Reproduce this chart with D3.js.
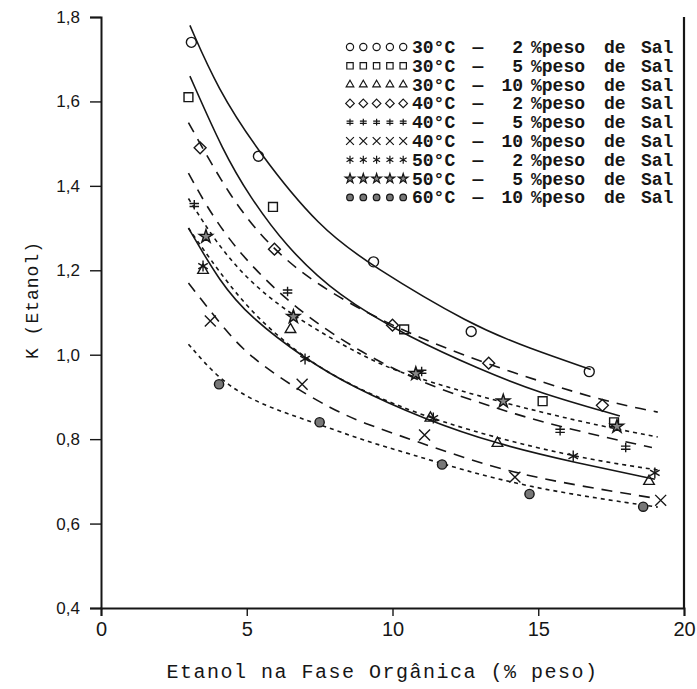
<!DOCTYPE html>
<html>
<head>
<meta charset="utf-8">
<script src="https://cdn.jsdelivr.net/npm/d3@7"></script>
<style>
  body { margin: 0; background: #fff; }
  svg { display: block; }
</style>
</head>
<body>
<svg id="chart" width="697" height="689"></svg>
<script>
// ---- data ----
var xDomain = [0, 20]
  , yDomain = [0.4, 1.8];
var xMajor = [0, 5, 10, 15, 20];
var yMajor = [0.4, 0.6, 0.8, 1.0, 1.2, 1.4, 1.6, 1.8];

var temps = ["30°C", "30°C", "30°C", "40°C", "40°C", "40°C", "50°C", "50°C", "60°C"];
var salts = ["2", "5", "10", "2", "5", "10", "2", "5", "10"];

// experimental points [etanol %, K]
var pts30_2  = [[3.1,1.74],[5.4,1.47],[9.35,1.22],[12.7,1.055],[16.75,0.96]];
var pts30_5  = [[3.0,1.61],[5.9,1.35],[10.4,1.06],[15.15,0.89],[17.6,0.84]];
var pts30_10 = [[3.5,1.20],[6.5,1.06],[11.3,0.85],[13.6,0.79],[18.8,0.70]];
var pts40_2  = [[3.4,1.49],[5.95,1.25],[10.0,1.07],[13.3,0.98],[17.2,0.88]];
var pts40_5  = [[3.2,1.355],[6.4,1.15],[11.0,0.96],[15.75,0.82],[18.0,0.78]];
var pts40_10 = [[3.75,1.08],[6.9,0.93],[11.1,0.81],[14.2,0.71],[19.2,0.655]];
var pts50_2  = [[3.5,1.21],[7.0,0.99],[11.4,0.85],[16.2,0.76],[19.0,0.72]];
var pts50_5  = [[3.6,1.28],[6.6,1.09],[10.8,0.955],[13.8,0.89],[17.7,0.83]];
var pts60_10 = [[4.05,0.93],[7.5,0.84],[11.7,0.74],[14.7,0.67],[18.6,0.64]];

// fitted curves, read at a few places along each line
var fit30_2  = [[3.05,1.78],[4,1.63],[5.4,1.48],[7.5,1.30],[9.3,1.21],[12.7,1.07],[14.7,1.015],[16.8,0.965]];
var fit30_5  = [[3.05,1.66],[4.2,1.48],[5.1,1.375],[6.3,1.26],[8.1,1.14],[10.6,1.04],[13,0.965],[15,0.91],[17.8,0.855]];
var fit30_10 = [[3.0,1.30],[4.1,1.17],[5.1,1.09],[7.0,0.99],[8.6,0.925],[11.06,0.848],[13.6,0.788],[16.3,0.744],[19.0,0.705]];
var fit40_2  = [[3.0,1.55],[4.45,1.37],[5.8,1.255],[7.4,1.165],[10,1.065],[13.3,0.975],[17.2,0.89],[19.1,0.864]];
var fit40_5  = [[3.0,1.43],[4.2,1.28],[6.4,1.12],[9,1.0],[11.3,0.925],[13.7,0.87],[15.65,0.83],[18.9,0.78]];
var fit40_10 = [[3.0,1.17],[4.35,1.05],[5.14,0.995],[6.5,0.928],[7.9,0.872],[9.0,0.838],[10.6,0.8],[13.36,0.734],[15.65,0.698],[19.0,0.66]];
var fit50_2  = [[3.0,1.30],[3.6,1.24],[5.1,1.10],[7.0,0.99],[8.6,0.925],[11.5,0.84],[16.1,0.758],[19.1,0.727]];
var fit50_5  = [[3.0,1.37],[4,1.26],[5.14,1.17],[6.6,1.09],[9.0,0.995],[10.5,0.95],[13.7,0.888],[16.5,0.84],[19.1,0.805]];
var fit60_10 = [[3.0,1.025],[4.0,0.945],[5.1,0.895],[6.3,0.862],[7.5,0.835],[9.0,0.797],[10.6,0.765],[12.5,0.725],[14.7,0.687],[17,0.66],[19.1,0.639]];

var points = [pts30_2, pts30_5, pts30_10, pts40_2, pts40_5, pts40_10, pts50_2, pts50_5, pts60_10];
var fits   = [fit30_2, fit30_5, fit30_10, fit40_2, fit40_5, fit40_10, fit50_2, fit50_5, fit60_10];

// ---- drawing ----
var ink = "#161616";
var markerKinds = ["circle","square","triangle","diamond","dplus","times","asterisk","star","dot"];
var dashes = [null, null, null, "11,8", "11,8", "11,8", "4,4", "4,4", "4,4"];

var svg = d3.select("#chart");

var x = d3.scaleLinear().domain(xDomain).range([101, 684]);
var y = d3.scaleLinear().domain(yDomain).range([608, 17]);

function markerPath(kind, r) {
  if (kind == "circle") return d3.symbol(d3.symbolCircle, Math.PI * r * r)();
  if (kind == "dot") return d3.symbol(d3.symbolCircle, Math.PI * r * r * 0.85)();
  if (kind == "square") return d3.symbol(d3.symbolSquare2, 4 * r * r)();
  if (kind == "triangle") return d3.symbol(d3.symbolTriangle2, 3.2 * r * r)();
  if (kind == "diamond") return d3.symbol(d3.symbolDiamond2, 3.6 * r * r)();
  if (kind == "times") return d3.symbol(d3.symbolTimes, 3.2 * r * r)();
  if (kind == "asterisk") return d3.symbol(d3.symbolAsterisk, 3.4 * r * r)();
  if (kind == "star") return d3.symbol(d3.symbolStar, 2.2 * r * r)();
  if (kind == "dplus") {
    var a = r * 0.95;
    return "M0," + (-a) + "L0," + a +
           "M" + (-a) + "," + (-a * 0.3) + "L" + a + "," + (-a * 0.3) +
           "M" + (-a) + "," + (a * 0.35) + "L" + a + "," + (a * 0.35);
  }
}
function markerFill(kind) {
  if (kind == "star") return "#888";
  if (kind == "dot") return "#777";
  return "none";
}

// axes
var gy = svg.append("g").attr("transform", "translate(" + x(0) + ",0)");
gy.call(d3.axisLeft(y).tickValues(d3.range(0.4, 1.8001, 0.02)).tickSize(6).tickFormat(""));
gy.call(d3.axisLeft(y).tickValues(yMajor).tickSize(11).tickPadding(10)
    .tickFormat(function(d){ return d.toFixed(1).replace(".", ","); }));
gy.selectAll("text")
    .style("font-family", "'Liberation Sans', Arial, sans-serif")
    .style("font-size", "17px")
    .attr("fill", ink);

var gx = svg.append("g").attr("transform", "translate(0," + y(0.4) + ")");
gx.call(d3.axisBottom(x).tickValues(d3.range(0, 20.001, 0.5)).tickSize(6).tickFormat(""));
gx.call(d3.axisBottom(x).tickValues(xMajor).tickSize(8).tickPadding(6).tickFormat(d3.format("d")));
gx.selectAll("text")
    .style("font-family", "'Liberation Sans', Arial, sans-serif")
    .style("font-size", "20px")
    .attr("fill", ink);

svg.selectAll(".domain").attr("stroke", ink).attr("stroke-width", 2);
svg.selectAll(".tick line").attr("stroke", ink).attr("stroke-width", 1.4);

// right frame
svg.append("line")
    .attr("x1", x(20)).attr("x2", x(20))
    .attr("y1", y(1.8)).attr("y2", y(0.4))
    .attr("stroke", ink).attr("stroke-width", 2.2);

// axis titles
svg.append("text")
    .attr("x", (x(0) + x(20)) / 2 - 10)
    .attr("y", 678)
    .attr("text-anchor", "middle")
    .style("font-family", "'Liberation Mono', 'Courier New', monospace")
    .style("font-size", "20px")
    .style("letter-spacing", "1.5px")
    .attr("fill", ink)
    .text("Etanol na Fase Orgânica (% peso)");

svg.append("text")
    .attr("transform", "translate(38,300) rotate(-90)")
    .attr("text-anchor", "middle")
    .style("font-family", "'Liberation Mono', 'Courier New', monospace")
    .style("font-size", "18px")
    .style("letter-spacing", "1px")
    .attr("fill", ink)
    .text("K (Etanol)");

// curves
var line = d3.line()
    .x(function(d){ return x(d[0]); })
    .y(function(d){ return y(d[1]); })
    .curve(d3.curveBasis);

svg.append("g").selectAll("path")
    .data(fits)
  .enter().append("path")
    .attr("d", line)
    .attr("fill", "none")
    .attr("stroke", ink)
    .attr("stroke-width", 1.6)
    .attr("stroke-dasharray", function(d, i){ return dashes[i]; });

// markers
points.forEach(function(pts, i) {
  var kind = markerKinds[i];
  svg.append("g").selectAll("path")
      .data(pts)
    .enter().append("path")
      .attr("transform", function(d){ return "translate(" + x(d[0]) + "," + y(d[1]) + ")"; })
      .attr("d", markerPath(kind, 5))
      .attr("fill", markerFill(kind))
      .attr("stroke", ink)
      .attr("stroke-width", 1.4);
});

// legend
var legend = svg.append("g").attr("class", "legend");
var rowY = function(i){ return 47 + i * 18.8; };
var legFont = "'Liberation Mono', 'Courier New', monospace";

temps.forEach(function(t, i) {
  var g = legend.append("g").attr("transform", "translate(0," + rowY(i) + ")");
  var kind = markerKinds[i];
  d3.range(5).forEach(function(k) {
    g.append("path")
        .attr("transform", "translate(" + (350 + k * 13.3) + ",0)")
        .attr("d", markerPath(kind, 3.6))
        .attr("fill", markerFill(kind))
        .attr("stroke", ink)
        .attr("stroke-width", 1.2);
  });
  var txt = function(xp, s, anchor) {
    g.append("text")
        .attr("x", xp).attr("y", 6)
        .attr("text-anchor", anchor || "start")
        .style("font-family", legFont)
        .style("font-size", "18px")
        .style("font-weight", "bold")
        .attr("fill", ink)
        .text(s);
  };
  txt(412, t);
  txt(478, "—", "middle");
  txt(523, salts[i], "end");
  txt(531, "%peso");
  txt(604, "de");
  txt(641, "Sal");
});
</script>
</body>
</html>
